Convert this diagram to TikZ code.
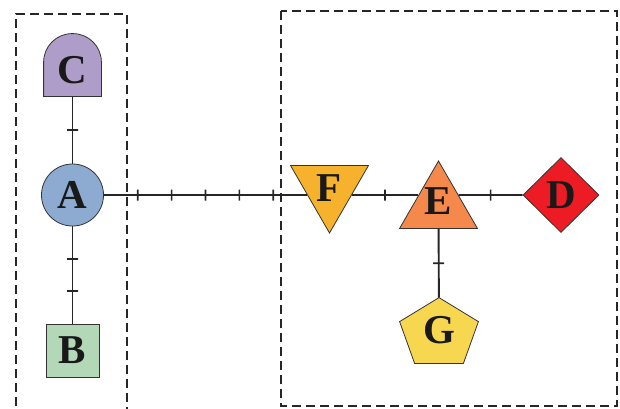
\documentclass[tikz,border=0pt]{standalone}
\usepackage{fontspec}
\setmainfont{Liberation Serif}
\usetikzlibrary{shapes.geometric,backgrounds}
\definecolor{apurple}{RGB}{174,157,201}
\definecolor{ablue}{RGB}{141,170,209}
\definecolor{agreen}{RGB}{179,216,183}
\definecolor{aorange}{RGB}{247,178,45}
\definecolor{acoral}{RGB}{245,136,75}
\definecolor{ared}{RGB}{237,28,36}
\definecolor{ayellow}{RGB}{247,215,80}
\begin{document}
\begin{tikzpicture}[x=1pt,y=-1pt,
  shp/.style={draw=black!80, line width=0.8pt, inner sep=0pt, text=black!90,
    font=\fontsize{41}{41}\selectfont\bfseries},
  tri/.style={shp, regular polygon, regular polygon sides=3, minimum size=90pt},
  link/.style={line width=1.9pt, black!85},
  tk/.style={draw=black!85, line width=1.6pt, sloped, inner sep=0pt, outer sep=0pt,
    minimum width=0pt, minimum height=11pt},
  grp/.style={dash pattern=on 9pt off 5pt, line width=1.3pt, black!85}]
  \useasboundingbox (0,0) rectangle (620,408);
  \draw[grp] (16,420) -- (16,14) -- (127,14) -- (127,420);
  \draw[grp] (281,11) rectangle (617,406);
  \node[shp, circle, fill=ablue, minimum size=62pt] (A) at (72.5,195) {A};
  \node[shp, fill=agreen, minimum size=53pt] (B) at (72.5,350.5) {B};
  \node[shp, draw=none, minimum width=57pt, minimum height=62pt,
    text height=36pt, text depth=0pt] (C) at (72.5,65) {C};
  \node[tri, fill=aorange, shape border rotate=180] (F) at (329.5,188) {F};
  \node[tri, fill=acoral, text height=22pt, text depth=5pt] (E) at (438.5,206) {E};
  \node[shp, diamond, fill=ared, minimum width=76pt, minimum height=75pt] (D) at (561,195) {D};
  \node[shp, draw=none, minimum width=78pt, minimum height=65pt] (G) at (439,330.5) {G};
  \begin{scope}[on background layer]
    \draw[shp, fill=apurple] (C.south west) [rounded corners=28.5pt] -- (C.north west)
      -- (C.north east) [sharp corners] -- (C.south east) -- cycle;
    \draw[shp, fill=ayellow] (G.north) -- ([yshift=-24pt]G.north east)
      -- ([xshift=-15pt]G.south east) -- ([xshift=15pt]G.south west)
      -- ([yshift=-24pt]G.north west) -- cycle;
  \end{scope}
  \coordinate (Fl) at (intersection of A--D and F.corner 3--F.corner 1);
  \coordinate (Fr) at (intersection of A--D and F.corner 2--F.corner 1);
  \coordinate (El) at (intersection of A--D and E.corner 1--E.corner 2);
  \coordinate (Er) at (intersection of A--D and E.corner 1--E.corner 3);
  \draw[link] (C) -- (A) node[tk,pos=.5]{};
  \draw[link] (A) -- (B) node[tk,pos=.3333]{} node[tk,pos=.6667]{};
  \draw[link] (A) -- (Fl)
    \foreach \p in {0.1667,0.3333,0.5,0.6667,0.8333}{node[tk,pos=\p]{}};
  \draw[link] (Fr) -- (El) node[tk,pos=.5]{};
  \draw[link] (Er) -- (D) node[tk,pos=.5]{};
  \draw[link] (E) -- (G) node[tk,pos=.5]{};
\end{tikzpicture}
\end{document}
